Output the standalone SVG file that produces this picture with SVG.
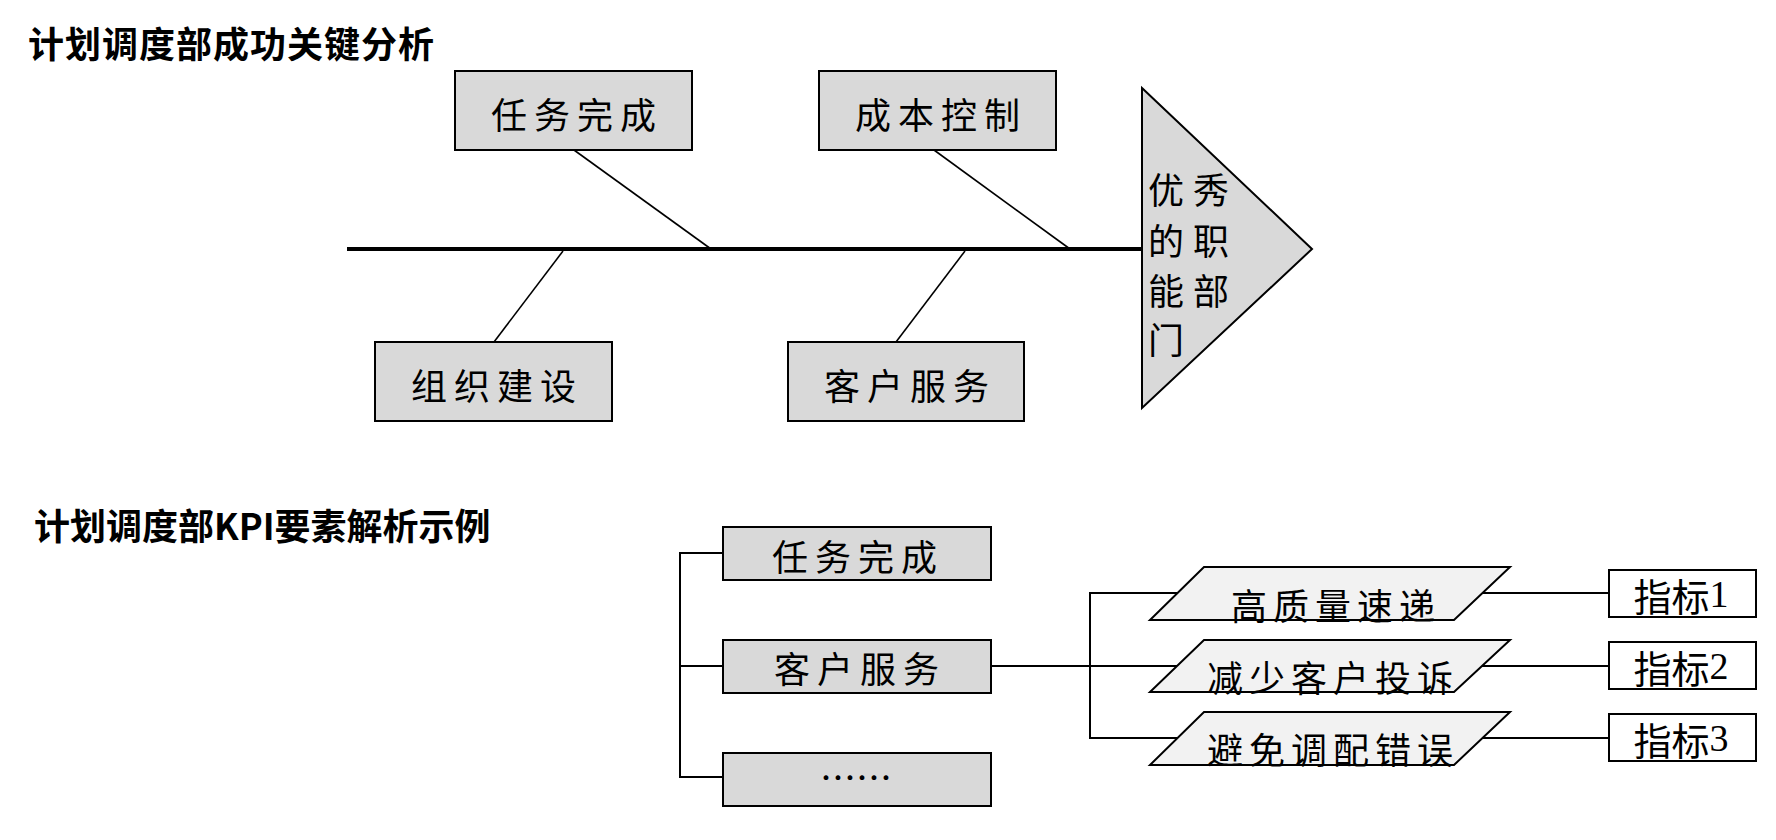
<svg xmlns="http://www.w3.org/2000/svg" width="1776" height="840" viewBox="0 0 1776 840">
<style>
.t{font-family:"Noto Sans CJK SC","Noto Sans CJK JP",sans-serif;font-size:36px;fill:#000;dominant-baseline:central}
.h{font-weight:bold}
.box{fill:#d9d9d9;stroke:#000;stroke-width:2}
.pg{fill:#f2f2f2;stroke:#000;stroke-width:2}
.wb{fill:#fff;stroke:#000;stroke-width:2}
.ln{stroke:#000;stroke-width:1.6;fill:none}
.ln2{stroke:#000;stroke-width:2;fill:none}
.num{font-family:"Liberation Serif",serif}
.ib{font-size:38px}
</style>
<rect width="1776" height="840" fill="#fff"/>
<text class="t h" x="28" y="42" letter-spacing="1">计划调度部成功关键分析</text>
<text class="t h" x="34" y="524">计划调度部KPI要素解析示例</text>

<g id="connectors">
<line x1="347" y1="249" x2="1142" y2="249" stroke="#000" stroke-width="4"/>
<line class="ln" x1="574" y1="150" x2="711" y2="249"/>
<line class="ln" x1="934" y1="150" x2="1070" y2="249"/>
<line class="ln" x1="563" y1="251" x2="494" y2="342"/>
<line class="ln" x1="965" y1="251" x2="896" y2="342"/>
<polyline class="ln2" points="723,553 680,553 680,777 723,777"/>
<line class="ln2" x1="680" y1="666" x2="723" y2="666"/>
<line class="ln2" x1="991" y1="666" x2="1180" y2="666"/>
<polyline class="ln2" points="1180,593 1090,593 1090,738 1180,738"/>
<line class="ln2" x1="1482" y1="593" x2="1609" y2="593"/>
<line class="ln2" x1="1482" y1="666" x2="1609" y2="666"/>
<line class="ln2" x1="1482" y1="738" x2="1609" y2="738"/>
</g>

<g id="n-renwu">
<rect class="box" x="455" y="71" width="237" height="79"/>
<text class="t" x="577" y="113" text-anchor="middle" letter-spacing="7">任务完成</text>
</g>
<g id="n-chengben">
<rect class="box" x="819" y="71" width="237" height="79"/>
<text class="t" x="941" y="113" text-anchor="middle" letter-spacing="7">成本控制</text>
</g>
<g id="n-zuzhi">
<rect class="box" x="375" y="342" width="237" height="79"/>
<text class="t" x="497" y="384" text-anchor="middle" letter-spacing="7">组织建设</text>
</g>
<g id="n-kehu">
<rect class="box" x="788" y="342" width="236" height="79"/>
<text class="t" x="910" y="384" text-anchor="middle" letter-spacing="7">客户服务</text>
</g>
<g id="n-head">
<polygon class="box" points="1142,88 1312,249 1142,408"/>
<text class="t" x="1166" y="188" text-anchor="middle">优</text>
<text class="t" x="1211" y="188" text-anchor="middle">秀</text>
<text class="t" x="1166" y="239" text-anchor="middle">的</text>
<text class="t" x="1211" y="239" text-anchor="middle">职</text>
<text class="t" x="1166" y="289" text-anchor="middle">能</text>
<text class="t" x="1211" y="289" text-anchor="middle">部</text>
<text class="t" x="1166" y="338" text-anchor="middle">门</text>
</g>

<g id="k-renwu">
<rect class="box" x="723" y="527" width="268" height="53"/>
<text class="t" x="858" y="555" text-anchor="middle" letter-spacing="7">任务完成</text>
</g>
<g id="k-kehu">
<rect class="box" x="723" y="640" width="268" height="53"/>
<text class="t" x="860" y="667" text-anchor="middle" letter-spacing="7">客户服务</text>
</g>
<g id="k-more">
<rect class="box" x="723" y="753" width="268" height="53"/>
<text class="t" x="856" y="776" text-anchor="middle">……</text>
</g>

<g id="p1">
<polygon class="pg" points="1204,567 1510,567 1454,620 1150,620"/>
<text class="t" x="1336" y="604" text-anchor="middle" letter-spacing="6">高质量速递</text>
</g>
<g id="p2">
<polygon class="pg" points="1204,640 1510,640 1454,692 1150,692"/>
<text class="t" x="1333" y="676" text-anchor="middle" letter-spacing="6">减少客户投诉</text>
</g>
<g id="p3">
<polygon class="pg" points="1204,712 1510,712 1454,765 1150,765"/>
<text class="t" x="1333" y="748" text-anchor="middle" letter-spacing="6">避免调配错误</text>
</g>

<g id="i1">
<rect class="wb" x="1609" y="570" width="147" height="47"/>
<text class="t ib" x="1681" y="594" text-anchor="middle">指标<tspan class="num">1</tspan></text>
</g>
<g id="i2">
<rect class="wb" x="1609" y="642" width="147" height="47"/>
<text class="t ib" x="1681" y="666" text-anchor="middle">指标<tspan class="num">2</tspan></text>
</g>
<g id="i3">
<rect class="wb" x="1609" y="714" width="147" height="47"/>
<text class="t ib" x="1681" y="738" text-anchor="middle">指标<tspan class="num">3</tspan></text>
</g>
</svg>
